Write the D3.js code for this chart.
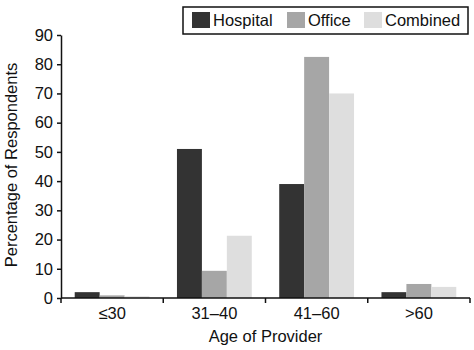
<!DOCTYPE html>
<html>
<head>
<meta charset="utf-8">
<script src="https://cdn.jsdelivr.net/npm/d3@7"></script>
<style>
  body { margin: 0; background: #fff; }
  svg text { font-family: "Liberation Sans", Arial, sans-serif; fill: #111; }
</style>
</head>
<body>
<div id="chart"></div>
<script>
/* data */
var categories = ["\u226430", "31\u201340", "41\u201360", ">60"];
var series = ["Hospital", "Office", "Combined"];
var hospital = [2, 51, 39, 2];
var office = [0.9, 9.3, 82.5, 4.8];
var combined = [0.6, 21.3, 70, 3.8];
var yTicks = [0, 10, 20, 30, 40, 50, 60, 70, 80, 90];
var colors = ["#333333", "#a6a6a6", "#dedede"];

var values = [hospital, office, combined];

/* margin convention */
var margin = { top: 35, right: 4, bottom: 52, left: 61 };
var width = 474 - margin.left - margin.right;
var height = 350 - margin.top - margin.bottom;
var fs = "16.5px";

var svg = d3.select("#chart").append("svg")
  .attr("width", 474)
  .attr("height", 350);

var g = svg.append("g")
  .attr("transform", "translate(" + margin.left + "," + margin.top + ")");

// scales
var x0 = d3.scaleBand()
  .domain(categories)
  .range([0, width])
  .padding(0);

var x1 = d3.scaleBand()
  .domain(series)
  .range([0, x0.bandwidth()])
  .paddingInner(0)
  .paddingOuter(0.55);

var y = d3.scaleLinear()
  .domain([0, 90])
  .range([height, 0]);

// bars
categories.forEach(function(c, i) {
  g.selectAll(".bar-" + i)
    .data(series)
    .enter()
    .append("rect")
      .attr("x", function(s) { return x0(c) + x1(s); })
      .attr("y", function(s, j) { return y(values[j][i]); })
      .attr("width", x1.bandwidth())
      .attr("height", function(s, j) { return height - y(values[j][i]); })
      .attr("fill", function(s, j) { return colors[j]; });
});

// y axis
var yAxis = g.append("g")
  .call(d3.axisLeft(y).tickValues(yTicks).tickSize(4).tickSizeOuter(0));
yAxis.select(".domain").attr("stroke", "#111").attr("stroke-width", 1.5);
yAxis.selectAll(".tick line").attr("stroke", "#111").attr("stroke-width", 1.5);
yAxis.selectAll(".tick text")
  .attr("x", -8)
  .style("font-size", fs);

// x axis: ticks at band edges
var xAxis = g.append("g")
  .attr("transform", "translate(0," + height + ")");
xAxis.append("line")
  .attr("x1", 0).attr("x2", width)
  .attr("stroke", "#111").attr("stroke-width", 1.5);
var edges = categories.map(function(c) { return x0(c); }).concat([width]);
xAxis.selectAll(".edge")
  .data(edges)
  .enter()
  .append("line")
    .attr("x1", function(d) { return d; })
    .attr("x2", function(d) { return d; })
    .attr("y1", 0).attr("y2", 5)
    .attr("stroke", "#111").attr("stroke-width", 1.5);
xAxis.selectAll(".cat")
  .data(categories)
  .enter()
  .append("text")
    .attr("x", function(c) { return x0(c) + x0.bandwidth() / 2; })
    .attr("y", 21)
    .attr("text-anchor", "middle")
    .style("font-size", fs)
    .text(function(c) { return c; });

// axis titles
g.append("text")
  .attr("x", width / 2)
  .attr("y", height + 44)
  .attr("text-anchor", "middle")
  .style("font-size", fs)
  .text("Age of Provider");

g.append("text")
  .attr("transform", "translate(" + (-44) + "," + (165 - margin.top) + ") rotate(-90)")
  .attr("text-anchor", "middle")
  .style("font-size", fs)
  .text("Percentage of Respondents");

// legend
var legend = svg.append("g").attr("transform", "translate(183,7)");
legend.append("rect")
  .attr("width", 285).attr("height", 27)
  .attr("fill", "#fff").attr("stroke", "#111").attr("stroke-width", 1.5);
var legendX = [9, 104, 181];
series.forEach(function(s, j) {
  legend.append("rect")
    .attr("x", legendX[j]).attr("y", 5)
    .attr("width", 18).attr("height", 16)
    .attr("fill", colors[j]);
  legend.append("text")
    .attr("x", legendX[j] + 21).attr("y", 19)
    .style("font-size", fs)
    .text(s);
});
</script>
</body>
</html>
